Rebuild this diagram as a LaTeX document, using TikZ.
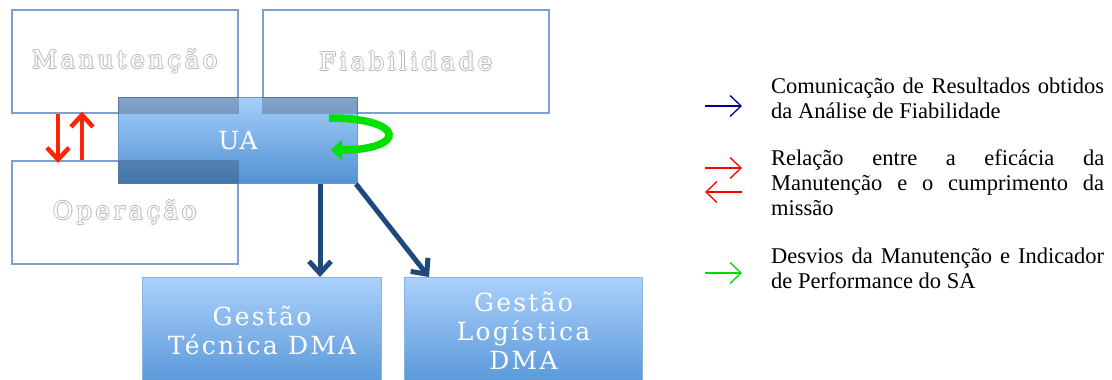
\documentclass[tikz,border=0pt]{standalone}
\usepackage{fontspec}
\setmainfont{Liberation Serif}
\newfontfamily\labelserif[LetterSpace=14]{DejaVu Serif}
\newfontfamily\unitserif[LetterSpace=4]{DejaVu Serif}
\newfontfamily\deptserif[LetterSpace=9]{DejaVu Serif}
\usetikzlibrary{arrows.meta,calc}

\definecolor{boxedge}{RGB}{125,160,205}
\definecolor{ghostedge}{RGB}{185,185,185}
\definecolor{unittop}{RGB}{165,205,250}
\definecolor{unitbot}{RGB}{82,146,212}
\definecolor{unitedge}{RGB}{110,150,200}
\definecolor{depttop}{RGB}{172,208,252}
\definecolor{deptbot}{RGB}{88,152,216}
\definecolor{deptedge}{RGB}{140,178,222}
\definecolor{navyflow}{RGB}{31,73,125}
\definecolor{redflow}{RGB}{255,35,10}
\definecolor{greenflow}{RGB}{0,225,0}
\definecolor{legblue}{RGB}{0,0,140}
\definecolor{legred}{RGB}{255,0,0}
\definecolor{leggreen}{RGB}{0,220,0}

% white letters with a thin grey rim
\newcommand\ghosttext[1]{\leavevmode
  \rlap{\kern.9pt\textcolor{ghostedge}{#1}}%
  \rlap{\kern-.9pt\textcolor{ghostedge}{#1}}%
  \rlap{\raisebox{.9pt}{\textcolor{ghostedge}{#1}}}%
  \rlap{\raisebox{-.9pt}{\textcolor{ghostedge}{#1}}}%
  \textcolor{white}{#1}}

\begin{document}
\begin{tikzpicture}[x=1pt,y=-1pt,
  plainbox/.style={draw=boxedge, line width=1.6pt, fill=white, inner sep=0pt,
    anchor=north west, font=\labelserif\fontsize{24.5}{28}\selectfont},
  unitbox/.style={draw=unitedge, line width=1pt, top color=unittop, bottom color=unitbot,
    inner sep=0pt, anchor=north west, text=white, font=\unitserif\fontsize{25}{29}\selectfont},
  deptbox/.style={draw=deptedge, line width=1pt, top color=depttop, bottom color=deptbot,
    inner sep=0pt, anchor=north west, text=white, align=center,
    font=\deptserif\fontsize{25}{29}\selectfont},
  overlapshade/.style={fill=black, fill opacity=0.2},
  redarrow/.style={draw=redflow, line width=4.5pt, -{Straight Barb[length=12pt,width=22pt]}},
  navyarrow/.style={draw=navyflow, line width=5pt, -{Straight Barb[length=12pt,width=22pt]}},
  greenarrow/.style={draw=greenflow, line width=7.5pt, -{Triangle[length=11pt,width=20pt]}},
  legarrow/.style={line width=1.3pt, -{Straight Barb[length=11pt,width=21pt]}},
  legtext/.style={anchor=base west, inner sep=0pt, font=\fontsize{22.5}{25}\selectfont}
]
\useasboundingbox (0,0) rectangle (1112,380);
\clip (0,0) rectangle (1112,380);
\fill[white] (0,0) rectangle (1112,380);

% functional areas
\node[plainbox, minimum width=226pt, minimum height=103pt] (man) at (11,9) {\ghosttext{Manutenção}};
\node[plainbox, minimum width=286pt, minimum height=103pt] (fia) at (262,9) {\ghosttext{Fiabilidade}};
\node[plainbox, minimum width=226pt, minimum height=103pt] (op) at (11,160) {\ghosttext{Operação}};

% the unit in the middle
\node[unitbox, minimum width=239pt, minimum height=86pt] (ua) at (118,97) {UA};
\fill[overlapshade] (ua.north west) rectangle (man.south east);
\fill[overlapshade] (fia.south west) rectangle (ua.north east);
\fill[overlapshade] (op.north east) rectangle (ua.south west);

% departments
\node[deptbox, minimum width=239pt, minimum height=106pt] (gt) at (142,277) {Gestão\\Técnica DMA};
\node[deptbox, minimum width=238pt, minimum height=106pt] (gl) at (404,277) {Gestão\\Logística\\DMA};

% flows
\coordinate (rdx) at (58,0);
\coordinate (rux) at (82,0);
\draw[redarrow, shorten >=-3pt] (man.south -| rdx) -- (op.north -| rdx);
\draw[redarrow, shorten >=-2pt] (op.north -| rux) -- (man.south -| rux);

\coordinate (bvx) at (320,0);
\coordinate (bdx) at (429,0);
\draw[navyarrow] (ua.south -| bvx) -- (gt.north -| bvx);
\draw[navyarrow] ($(ua.south east)+(-2,0)$) -- (gl.north -| bdx);

\coordinate (gs) at ($(ua.north east)+(-29,21)$);
\coordinate (ge) at ($(ua.north east)+(-27,53)$);
\draw[greenarrow] (gs) .. controls +(78,0) and +(76,0) .. (ge);

% legend
\coordinate (l1a) at (705,106); \coordinate (l1b) at (742,106);
\coordinate (l2a) at (705,168); \coordinate (l2b) at (742,168);
\coordinate (l3a) at (742,192); \coordinate (l3b) at (705,192);
\coordinate (l4a) at (705,273); \coordinate (l4b) at (742,273);
\draw[legarrow, draw=legblue] (l1a) -- (l1b);
\draw[legarrow, draw=legred] (l2a) -- (l2b);
\draw[legarrow, draw=legred] (l3a) -- (l3b);
\draw[legarrow, draw=leggreen] (l4a) -- (l4b);

\node[legtext] (leg1) at (771,93) {\parbox[t]{333pt}{\hyphenpenalty=10000\parindent=0pt
  Comunicação de Resultados obtidos\linebreak da Análise de Fiabilidade}};
\node[legtext] (leg2) at (771,165) {\parbox[t]{333pt}{\hyphenpenalty=10000\parindent=0pt
  Relação entre a eficácia da\linebreak Manutenção e o cumprimento da\linebreak missão}};
\node[legtext] (leg3) at (771,263) {\parbox[t]{333pt}{\hyphenpenalty=10000\parindent=0pt
  Desvios da Manutenção e Indicador\linebreak de Performance do SA}};
\end{tikzpicture}
\end{document}
